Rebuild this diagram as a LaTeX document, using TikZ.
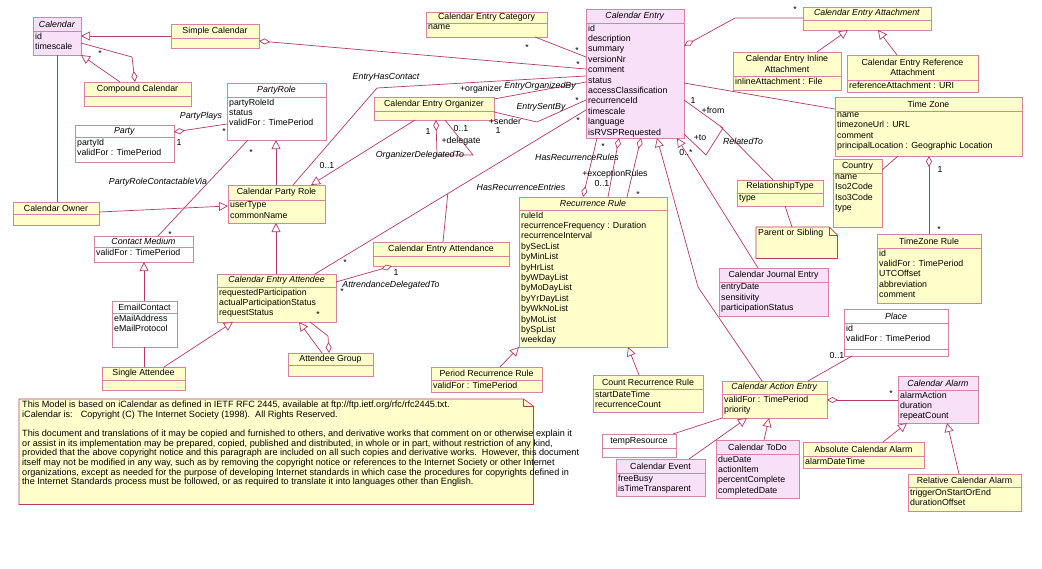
\documentclass[tikz,border=0pt]{standalone}
\usepackage{fontspec}
\setmainfont{Liberation Sans}
\usetikzlibrary{positioning,arrows.meta,calc}

\definecolor{clsyellow}{RGB}{255,255,204}
\definecolor{clspink}{RGB}{249,224,249}
\definecolor{clsborder}{RGB}{214,130,160}
\definecolor{linkred}{RGB}{184,56,102}
\definecolor{noteborder}{RGB}{184,56,102}

\tikzset{
  classbox/.style={draw=clsborder, line width=0.7pt, inner sep=0pt, outer sep=0pt},
  yellowbox/.style={fill=clsyellow},
  pinkbox/.style={fill=clspink},
  whitebox/.style={fill=white},
  sepline/.style={draw=clsborder, line width=0.7pt},
  classtitle/.style={font=\fontsize{8.8}{10.4}\selectfont, inner sep=0pt, align=center},
  classattr/.style={font=\fontsize{8.8}{10.4}\selectfont, inner sep=0pt, anchor=north west, align=left},
  link/.style={draw=linkred, line width=0.7pt},
  inherit/.style={link, -{Triangle[length=9pt,width=9pt,fill=white]}},
  aggr/.style={link, {Diamond[length=11pt,width=6pt,fill=white]}-},
  mult/.style={font=\fontsize{8.8}{10}\selectfont, inner sep=0pt},
  assoc/.style={font=\fontsize{8.8}{10}\selectfont\itshape, inner sep=0pt},
  notebox/.style={draw=noteborder, line width=0.7pt, fill=clsyellow},
}

% class box: name, top-left, width, height, header height, fill, title, attributes
\newcommand{\umlclass}[8]{%
  \node[classbox, #6, minimum width=#3pt, minimum height=#4pt, anchor=north west] (#1) at (#2) {};
  \draw[sepline] ($(#1.north west)+(0,#5)$) -- ($(#1.north east)+(0,#5)$);
  \node[classtitle] (#1-t) at ($(#1.north)+(0,#5/2)$) {#7};
  \node[classattr] (#1-a) at ($(#1.north west)+(2,#5+1.5)$) {#8};
}

\begin{document}
\begin{tikzpicture}[x=1pt, y=-1pt]
\useasboundingbox[fill=white] (0,0) rectangle (1042,568);

% classes
\umlclass{cal}{33,17}{48}{38}{14.5}{pinkbox}{\textit{Calendar}}{id\\timescale}
\umlclass{simplecal}{171,24}{88}{24}{14}{yellowbox}{Simple Calendar}{}
\umlclass{compcal}{84,82}{107}{24}{14}{yellowbox}{Compound Calendar}{}
\umlclass{party}{75,125}{99}{37}{12}{whitebox}{\textit{Party}}{partyId\\validFor : TimePeriod}
\umlclass{prole}{227,83}{99}{57}{14}{whitebox}{\textit{PartyRole}}{partyRoleId\\status\\validFor : TimePeriod}
\umlclass{category}{426,12}{121}{25}{11}{yellowbox}{Calendar Entry Category}{name}
\umlclass{centry}{586,9}{98}{129}{14}{pinkbox}{\textit{Calendar Entry}}{id\\description\\summary\\versionNr\\comment\\status\\accessClassification\\recurrenceId\\timescale\\language\\isRVSPRequested}
\umlclass{attach}{803,7}{128}{23}{13}{yellowbox}{\textit{Calendar Entry Attachment}}{}
\umlclass{inline}{733,52}{108}{38}{24}{yellowbox}{Calendar Entry Inline\\Attachment}{inlineAttachment : File}
\umlclass{refatt}{847,55}{131}{37}{25}{yellowbox}{Calendar Entry Reference\\Attachment}{referenceAttachment : URI}
\umlclass{tzone}{835,97}{187}{59}{14}{yellowbox}{Time Zone}{name\\timezoneUrl : URL\\comment\\principalLocation : Geographic Location}
\umlclass{country}{833,159}{49}{68}{14}{yellowbox}{Country}{name\\Iso2Code\\Iso3Code\\type}
\umlclass{tzrule}{877,234}{104}{69}{14}{yellowbox}{TimeZone Rule}{id\\validFor : TimePeriod\\UTCOffset\\abbreviation\\comment}
\umlclass{reltype}{737,180}{86}{26}{13}{yellowbox}{RelationshipType}{type}
\umlclass{journal}{719,268}{109}{48}{14}{pinkbox}{Calendar Journal Entry}{entryDate\\sensitivity\\participationStatus}
\umlclass{place}{844,309}{104}{47}{14}{whitebox}{\textit{Place}}{id\\validFor : TimePeriod}
\draw[sepline] ($(place.north west)+(0,40)$) -- ($(place.north east)+(0,40)$);
\umlclass{alarm}{898,376}{80}{47}{14}{pinkbox}{\textit{Calendar Alarm}}{alarmAction\\duration\\repeatCount}
\umlclass{absalarm}{803,442}{121}{26}{14}{yellowbox}{Absolute Calendar Alarm}{alarmDateTime}
\umlclass{relalarm}{908,474}{113}{37}{13}{yellowbox}{Relative Calendar Alarm}{triggerOnStartOrEnd\\durationOffset}
\umlclass{action}{722,381}{105}{37}{13}{yellowbox}{\textit{Calendar Action Entry}}{validFor : TimePeriod\\priority}
\umlclass{countrule}{593,375}{110}{37}{14}{yellowbox}{Count Recurrence Rule}{startDateTime\\recurrenceCount}
\umlclass{tempres}{602,434}{74}{23}{14}{whitebox}{tempResource}{}
\umlclass{event}{616,459}{89}{37}{14}{pinkbox}{Calendar Event}{freeBusy\\isTimeTransparent}
\umlclass{todo}{716,440}{83}{58}{14}{pinkbox}{Calendar ToDo}{dueDate\\actionItem\\percentComplete\\completedDate}
\umlclass{recrule}{519,197}{148}{150}{13}{yellowbox}{\textit{Recurrence Rule}}{ruleId\\recurrenceFrequency : Duration\\recurrenceInterval\\bySecList\\byMinList\\byHrList\\byWDayList\\byMoDayList\\byYrDayList\\byWkNoList\\byMoList\\bySpList\\weekday}
\umlclass{periodrule}{431,367}{111}{25}{13}{yellowbox}{Period Recurrence Rule}{validFor : TimePeriod}
\umlclass{cprole}{228,185}{97}{38}{15}{yellowbox}{Calendar Party Role}{userType\\commonName}
\umlclass{organizer}{374,97}{120}{23}{14}{yellowbox}{Calendar Entry Organizer}{}
\umlclass{attendance}{373,242}{136}{24}{14}{yellowbox}{Calendar Entry Attendance}{}
\umlclass{attendee}{217,274}{119}{48}{13}{yellowbox}{\textit{Calendar Entry Attendee}}{requestedParticipation\\actualParticipationStatus\\requestStatus}
\umlclass{group}{288,353}{85}{23}{12}{yellowbox}{Attendee Group}{}
\umlclass{owner}{13,202}{86}{23}{12}{yellowbox}{Calendar Owner}{}
\umlclass{cmedium}{94,236}{99}{26}{11}{whitebox}{\textit{Contact Medium}}{validFor : TimePeriod}
\umlclass{email}{112,301}{65}{46}{12}{whitebox}{EmailContact}{eMailAddress\\eMailProtocol}
\umlclass{single}{102,367}{83}{23}{13}{yellowbox}{Single Attendee}{}

% notes
\node[inner sep=0pt, minimum width=81pt, minimum height=31pt, anchor=north west] (psnote) at (756,227) {};
\filldraw[notebox] (psnote.north west) -- ($(psnote.north east)+(-8,0)$) -- ($(psnote.north east)+(0,8)$) -- (psnote.south east) -- (psnote.south west) -- cycle;
\draw[notebox, fill=none] ($(psnote.north east)+(-8,0)$) -- ($(psnote.north east)+(-8,8)$) -- ($(psnote.north east)+(0,8)$);
\node[classattr] (psnote-t) at ($(psnote.north west)+(2,1.5)$) {Parent or Sibling};

\node[inner sep=0pt, minimum width=514pt, minimum height=105pt, anchor=north west] (rfcnote) at (19,399) {};
\filldraw[notebox] (rfcnote.north west) -- ($(rfcnote.north east)+(-10,0)$) -- ($(rfcnote.north east)+(0,7)$) -- (rfcnote.south east) -- (rfcnote.south west) -- cycle;
\draw[notebox, fill=none] ($(rfcnote.north east)+(-10,0)$) -- ($(rfcnote.north east)+(-10,7)$) -- ($(rfcnote.north east)+(0,7)$);
\node[inner sep=0pt, anchor=north west, align=left, font=\fontsize{9.1}{9.7}\selectfont] (rfcnote-t) at ($(rfcnote.north west)+(3,1.5)$) {%
This Model is based on iCalendar as defined in IETF RFC 2445, available at ftp://ftp.ietf.org/rfc/rfc2445.txt.\\
iCalendar is:\hspace{8pt}Copyright (C) The Internet Society (1998).\ \ All Rights Reserved.\\[9.7pt]
This document and translations of it may be copied and furnished to others, and derivative works that comment on or otherwise explain it\\
or assist in its implementation may be prepared, copied, published and distributed, in whole or in part, without restriction of any kind,\\
provided that the above copyright notice and this paragraph are included on all such copies and derivative works.\ \ However, this document\\
itself may not be modified in any way, such as by removing the copyright notice or references to the Internet Society or other Internet\\
organizations, except as needed for the purpose of developing Internet standards in which case the procedures for copyrights defined in\\
the Internet Standards process must be followed, or as required to translate it into languages other than English.};

% calendar part
\draw[inherit] (simplecal.west |- 0,36) -- (cal.east |- 0,36);
\draw[inherit] (120,0 |- compcal.north) -- (cal.south east);
\draw[aggr] (135,0 |- compcal.north) -- (132,57) -- (cal.east |- 0,43);
\draw[aggr] (simplecal.east |- 0,41) -- (centry.west |- 0,69);
\draw[link] (57,0 |- cal.south) -- (57,0 |- owner.north);
\draw[inherit] (owner.east |- 0,212) -- (cprole.west |- 0,206);

% party part
\draw[aggr] (party.east |- 0,132) -- (prole.west |- 0,124);
\draw[inherit] (276,0 |- cprole.north) -- (276,0 |- prole.south);
\draw[link] (248,0 |- prole.south) -- (158,0 |- cmedium.north);
\draw[inherit] (144,0 |- email.north) -- (144,0 |- cmedium.south);
\draw[link] (144,0 |- email.south) -- (144,0 |- single.north);
\draw[inherit] (164,0 |- single.north) -- (233,0 |- attendee.south);
\draw[inherit] (322,0 |- group.north) -- (299,0 |- attendee.south);
\draw[aggr] (329,0 |- group.north) -- (328,336) -- (310,0 |- attendee.south);
\draw[inherit] (276,0 |- attendee.north) -- (276,0 |- cprole.south);

% organizer and attendee
\draw[inherit] (415,0 |- organizer.south) -- (311,0 |- cprole.north);
\draw[aggr] (436,0 |- organizer.south) -- (437,155) -- (473,155) -- (445,0 |- organizer.south);
\draw[link] (293,0 |- cprole.north) -- (377,88) -- (centry.west |- 0,76);
\draw[link] (organizer.east |- 0,99) -- (centry.west |- 0,82);
\draw[link] (organizer.east |- 0,112) -- (537,122) -- (centry.west |- 0,100);
\draw[link] (535,0 |- category.south) -- (centry.west |- 0,57);
\draw[link] (315,0 |- attendee.north) -- (centry.west |- 0,110);
\coordinate (attjoin) at ($(315,274)!0.49!(586,110)$);
\draw[link] (443,0 |- attendance.north) -- (attjoin);
\draw[aggr] (392,0 |- attendance.south) -- (attendee.east |- 0,282);

% recurrence
\draw[aggr] (583,0 |- recrule.north) -- (597,0 |- centry.south);
\draw[aggr] (619,0 |- centry.south) -- (608,0 |- recrule.north);
\draw[aggr] (641,0 |- centry.south) -- (627,0 |- recrule.north);
\draw[inherit] (639,0 |- countrule.north) -- (628,0 |- recrule.south);
\draw[inherit] (500,0 |- periodrule.north) -- (recrule.south west);

% entry kinds
\draw[inherit] (762,0 |- action.north) -- (698,287) -- (657,0 |- centry.south);
\draw[inherit] (758,0 |- journal.north) -- (677,0 |- centry.south);
\draw[link] (centry.east |- 0,100) -- (723,128) -- (706,155) -- (centry.east |- 0,134);
\draw[link] (720,126) -- (773,0 |- reltype.north);
\draw[link] (785,0 |- reltype.south) -- (792,0 |- psnote.north);

% attachments and time zone
\draw[aggr] (centry.east |- 0,46) -- (735,18) -- (attach.west |- 0,18);
\draw[inherit] (817,0 |- inline.north) -- (848,0 |- attach.south);
\draw[inherit] (897,0 |- refatt.north) -- (878,0 |- attach.south);
\draw[link] (centry.east |- 0,83) -- (tzone.west |- 0,109);
\draw[link] (country.east |- 0,170) -- (898,0 |- tzone.south);
\draw[aggr] (929,0 |- tzone.south) -- (929,0 |- tzrule.north);

% action entry
\draw[link] (852,0 |- place.south) -- (808,0 |- action.north);
\draw[aggr] (action.east |- 0,400) -- (alarm.west |- 0,400);
\draw[inherit] (883,0 |- absalarm.north) -- (907,0 |- alarm.south);
\draw[inherit] (959,0 |- relalarm.north) -- (947,0 |- alarm.south);
\draw[inherit] (689,0 |- event.north) -- (747,0 |- action.south);
\draw[inherit] (764,0 |- todo.north) -- (769,0 |- action.south);
\draw[link] (673,0 |- tempres.north) -- (action.south west);

% labels
\node[mult] (m1) at (100,53) {*};
\node[assoc] (l1) at (201,116) {PartyPlays};
\node[mult] (m2) at (179,142) {1};
\node[mult] (m3) at (224,131) {*};
\node[assoc] (l2) at (158,182) {PartyRoleContactableVia};
\node[mult] (m4) at (251,152) {*};
\node[mult] (m5) at (170,234) {*};
\node[assoc] (l3) at (386,77) {EntryHasContact};
\node[mult] (m6) at (481,89) {+organizer};
\node[assoc] (l4) at (540,86) {EntryOrganizedBy};
\node[mult] (m7) at (577,50) {*};
\node[mult] (m8) at (527,47) {*};
\node[mult] (m9) at (578,64) {*};
\node[assoc] (l5) at (541,107) {EntrySentBy};
\node[mult] (m10) at (505,121) {+sender};
\node[mult] (m11) at (498,130) {1};
\node[mult] (m12) at (577,100) {*};
\node[mult] (m13) at (578,120) {*};
\node[mult] (m14) at (428,131) {1};
\node[mult] (m15) at (461,128) {0..1};
\node[mult] (m16) at (461,141) {+delegate};
\node[assoc] (l6) at (420,155) {OrganizerDelegatedTo};
\node[mult] (m17) at (327,165) {0..1};
\node[assoc] (l7) at (577,157) {HasRecurrenceRules};
\node[mult] (m18) at (603,146) {*};
\node[mult] (m19) at (615,174) {+exceptionRules};
\node[mult] (m20) at (602,183) {0..1};
\node[mult] (m21) at (638,194) {*};
\node[assoc] (l8) at (521,187) {HasRecurrenceEntries};
\node[mult] (m22) at (693,100) {1};
\node[mult] (m23) at (713,110) {+from};
\node[mult] (m24) at (700,138) {+to};
\node[mult] (m25) at (686,152) {0..*};
\node[assoc] (l9) at (743,141) {RelatedTo};
\node[mult] (m26) at (795,9) {*};
\node[mult] (m27) at (940,169) {1};
\node[mult] (m28) at (939,229) {*};
\node[mult] (m29) at (345,262) {*};
\node[mult] (m30) at (396,272) {1};
\node[mult] (m31) at (342,291) {*};
\node[assoc] (l10) at (391,285) {AttrendanceDelegatedTo};
\node[mult] (m32) at (318,314) {*};
\node[mult] (m33) at (837,355) {0..1};
\node[mult] (m34) at (891,393) {*};
\end{tikzpicture}
\end{document}
